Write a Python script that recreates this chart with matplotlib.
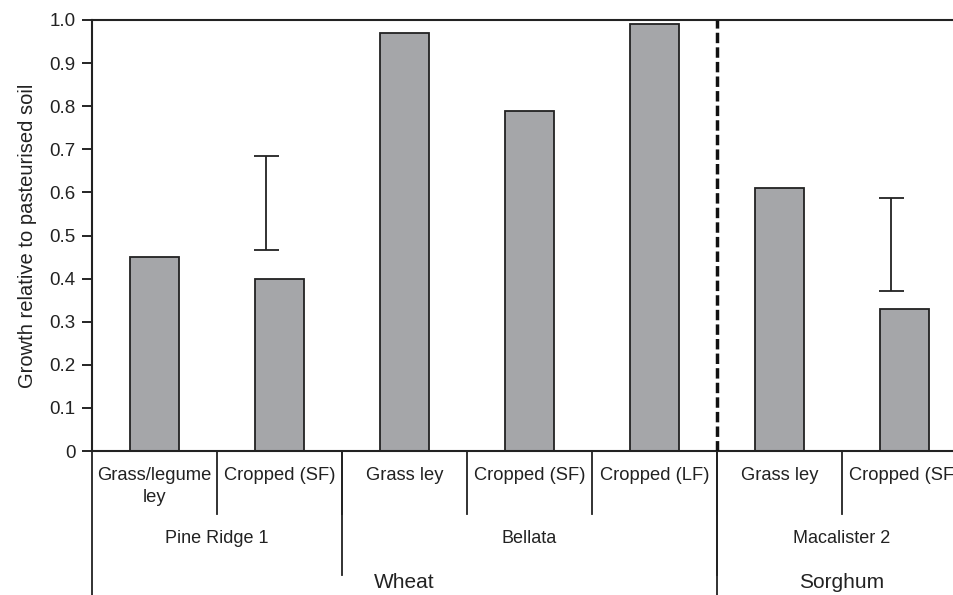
import numpy as np
import matplotlib
matplotlib.use('Agg')
from matplotlib import pyplot as plt

plt.rcParams['font.family'] = ['Liberation Sans', 'DejaVu Sans']

# data
treatments = ['Grass/legume\nley', 'Cropped (SF)', 'Grass ley', 'Cropped (SF)',
              'Cropped (LF)', 'Grass ley', 'Cropped (SF)']
growth = [0.45, 0.40, 0.97, 0.79, 0.99, 0.61, 0.33]
sites = ['Pine Ridge 1', 'Bellata', 'Macalister 2']
site_counts = [2, 3, 2]
crops = ['Wheat', 'Sorghum']
crop_counts = [5, 2]
# floating bars (low, high) drawn next to the cropped treatments
err_idx = [1, 6]
err_low = [0.466, 0.371]
err_high = [0.684, 0.587]

fig = plt.figure(figsize=(9.54, 5.95), dpi=100)
ax = fig.add_axes([92 / 954, 1 - 451 / 595, 875 / 954, 431 / 595])

x = np.arange(len(growth))
ax.bar(x, growth, width=0.39, color='#a5a6a9', edgecolor='#222222', linewidth=1.3, zorder=2)

for i, lo, hi in zip(err_idx, err_low, err_high):
    mid = (lo + hi) / 2
    ax.errorbar(i - 0.11, mid, yerr=(hi - lo) / 2, fmt='none', ecolor='#222222',
                elinewidth=1.3, capsize=9, capthick=1.3)

ax.set_xlim(-0.5, len(growth) - 0.5)
ax.set_ylim(0, 1.0)
ax.set_yticks(np.arange(0, 1.01, 0.1))
ax.set_yticklabels(['0'] + ['%.1f' % v for v in np.arange(0.1, 1.01, 0.1)])
ax.tick_params(axis='y', direction='out', length=7, width=1.2, labelsize=13.5, pad=5,
               labelcolor='#222222')
ax.set_xticks([])
ax.set_ylabel('Growth relative to pasteurised soil', fontsize=14.5, labelpad=9,
              color='#222222')

for s in ['left', 'bottom', 'top']:
    ax.spines[s].set_linewidth(1.5)
    ax.spines[s].set_color('#222222')
ax.spines['right'].set_visible(False)

# dashed line between wheat and sorghum
split = crop_counts[0] - 0.5
ax.axvline(split, color='#111111', linestyle=(0, (3, 1.2)), linewidth=2.5, zorder=3)

# category axis below the plot
tr = ax.get_xaxis_transform()
kw = dict(transform=tr, clip_on=False, color='#222222', linewidth=1.3)

ax.plot([-0.5, -0.5], [0, -0.35], **kw)
for b in np.arange(0.5, len(growth) - 0.5):
    ax.plot([b, b], [0, -0.146], **kw)
for b in np.cumsum(site_counts)[:-1] - 0.5:
    ax.plot([b, b], [0, -0.288], **kw)
for b in np.cumsum(crop_counts)[:-1] - 0.5:
    ax.plot([b, b], [0, -0.35], **kw)

for xi, lab in zip(x, treatments):
    ax.text(xi, -0.036, lab, transform=tr, ha='center', va='top', fontsize=13.2,
            color='#222222', linespacing=1.45)

start = -0.5
for name, n in zip(sites, site_counts):
    ax.text(start + n / 2, -0.203, name, transform=tr, ha='center', va='center',
            fontsize=13, color='#222222')
    start += n

start = -0.5
for name, n in zip(crops, crop_counts):
    ax.text(start + n / 2, -0.305, name, transform=tr, ha='center', va='center',
            fontsize=15, color='#222222')
    start += n

fig.savefig('out.png', dpi=100)
